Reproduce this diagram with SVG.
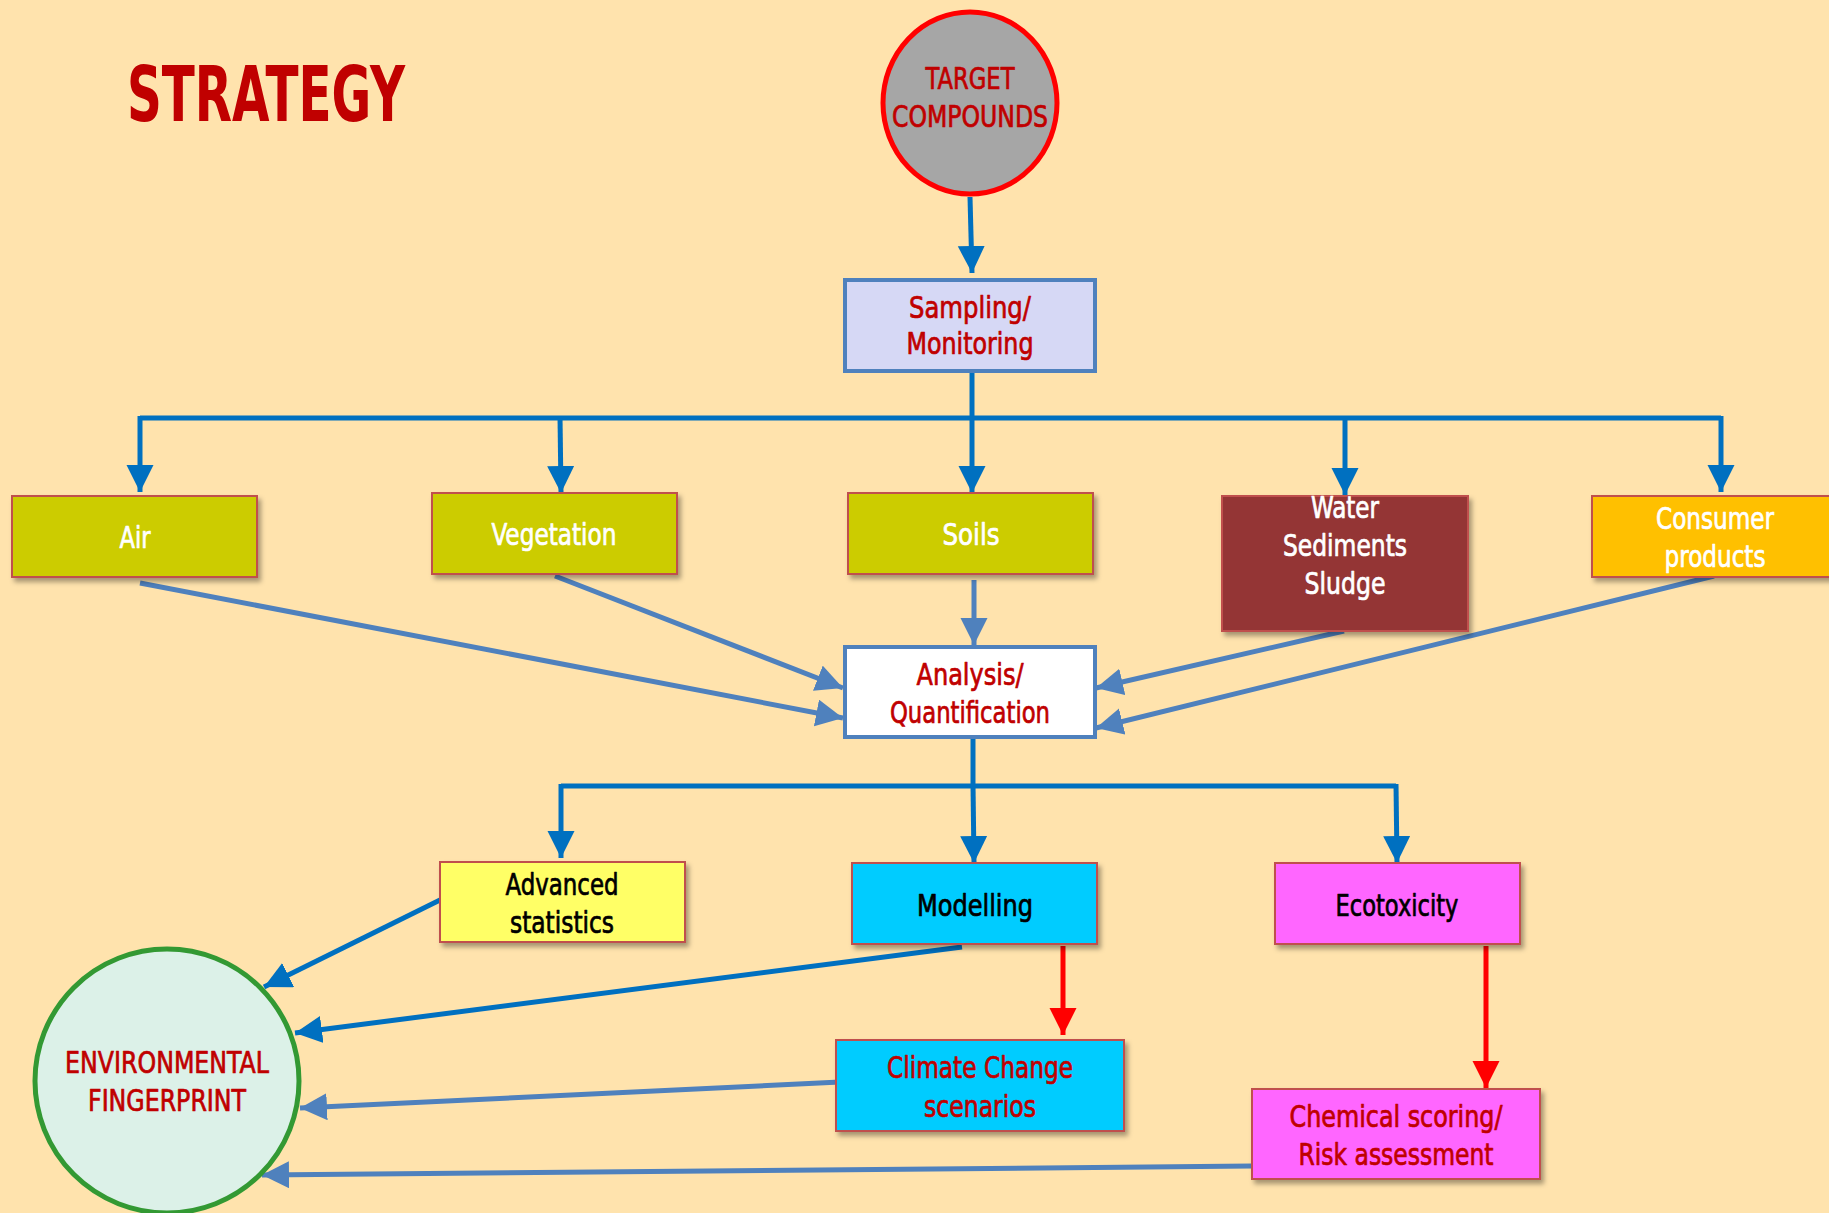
<svg xmlns="http://www.w3.org/2000/svg" width="1829" height="1213" viewBox="0 0 1829 1213">
<style>
text{font-family:"Liberation Sans Narrow","DejaVu Sans Condensed","Liberation Sans",sans-serif;text-anchor:middle;font-size:30px;stroke-width:0.7px;stroke-linejoin:round}
.red{fill:#c00000;stroke:#c00000}
.wht{fill:#ffffff;stroke:#ffffff}
.blk{fill:#000000;stroke:#000000}
.title{font-size:76px;font-weight:bold;stroke:none}
.box{stroke:#c0504d;stroke-width:2;filter:url(#sh)}
.c1{fill:none;stroke:#0070c0;stroke-width:5}
.c2{fill:none;stroke:#4f81bd;stroke-width:5}
.c3{fill:none;stroke:#ff0000;stroke-width:5}
</style>
<defs>
<filter id="sh" x="-10%" y="-10%" width="130%" height="140%">
<feDropShadow dx="3" dy="4" stdDeviation="2.5" flood-color="#000" flood-opacity="0.35"/>
</filter>
<marker id="a1" markerUnits="userSpaceOnUse" markerWidth="28" markerHeight="28" refX="27" refY="13.5" orient="auto"><path d="M0,0 L27,13.5 L0,27 z" fill="#0070c0"/></marker>
<marker id="a2" markerUnits="userSpaceOnUse" markerWidth="28" markerHeight="28" refX="27" refY="13.5" orient="auto"><path d="M0,0 L27,13.5 L0,27 z" fill="#4f81bd"/></marker>
<marker id="a3" markerUnits="userSpaceOnUse" markerWidth="28" markerHeight="28" refX="27" refY="13.5" orient="auto"><path d="M0,0 L27,13.5 L0,27 z" fill="#ff0000"/></marker>
</defs>
<rect x="0" y="0" width="1829" height="1213" fill="#ffe3ad"/>
<text x="266" y="121" class="red title" textLength="278" lengthAdjust="spacingAndGlyphs">STRATEGY</text>

<g id="connectors">
<path class="c1" d="M970,197 L972,273" marker-end="url(#a1)"/>
<path class="c1" d="M972,371 L972,418"/>
<path class="c1" d="M140,418 L1721,418"/>
<path class="c1" d="M140,416 L140,492" marker-end="url(#a1)"/>
<path class="c1" d="M560,416 L561,493" marker-end="url(#a1)"/>
<path class="c1" d="M972,416 L972,493" marker-end="url(#a1)"/>
<path class="c1" d="M1345,416 L1345,495" marker-end="url(#a1)"/>
<path class="c1" d="M1721,416 L1721,492" marker-end="url(#a1)"/>
<path class="c2" d="M140,583 L843,718" marker-end="url(#a2)"/>
<path class="c2" d="M555,576 L843,688" marker-end="url(#a2)"/>
<path class="c2" d="M974,580 L974,645" marker-end="url(#a2)"/>
<path class="c2" d="M1344,631 L1096,688" marker-end="url(#a2)"/>
<path class="c2" d="M1714,576 L1096,728" marker-end="url(#a2)"/>
<path class="c1" d="M973,738 L973,786"/>
<path class="c1" d="M561,786 L1396,786"/>
<path class="c1" d="M561,784 L561,858" marker-end="url(#a1)"/>
<path class="c1" d="M973,784 L974,863" marker-end="url(#a1)"/>
<path class="c1" d="M1396,784 L1397,863" marker-end="url(#a1)"/>
<path class="c1" d="M440,900 L264,987" marker-end="url(#a1)"/>
<path class="c1" d="M962,947 Q620,990 295,1033" marker-end="url(#a1)"/>
<path class="c2" d="M840,1082 L300,1108" marker-end="url(#a2)"/>
<path class="c2" d="M1252,1166 L262,1175" marker-end="url(#a2)"/>
<path class="c3" d="M1063,946 L1063,1035" marker-end="url(#a3)"/>
<path class="c3" d="M1486,946 L1486,1088" marker-end="url(#a3)"/>
</g>

<g id="target">
<ellipse cx="970" cy="103" rx="87" ry="91" fill="#a6a6a6" stroke="#ff0000" stroke-width="5"/>
<text x="970" y="89" class="red" textLength="89" lengthAdjust="spacingAndGlyphs">TARGET</text>
<text x="970" y="127" class="red" textLength="156" lengthAdjust="spacingAndGlyphs">COMPOUNDS</text>
</g>

<g id="sampling">
<rect x="845" y="280" width="250" height="91" fill="#d6d8f5" stroke="#4f81bd" stroke-width="4"/>
<text x="970" y="318" class="red" textLength="122" lengthAdjust="spacingAndGlyphs">Sampling/</text>
<text x="970" y="354" class="red" textLength="127" lengthAdjust="spacingAndGlyphs">Monitoring</text>
</g>

<g id="air">
<rect class="box" x="12" y="496" width="245" height="81" fill="#cccc00"/>
<text x="135" y="548" class="wht" textLength="31" lengthAdjust="spacingAndGlyphs">Air</text>
</g>
<g id="vegetation">
<rect class="box" x="432" y="493" width="245" height="81" fill="#cccc00"/>
<text x="554" y="545" class="wht" textLength="125" lengthAdjust="spacingAndGlyphs">Vegetation</text>
</g>
<g id="soils">
<rect class="box" x="848" y="493" width="245" height="81" fill="#cccc00"/>
<text x="971" y="545" class="wht" textLength="57" lengthAdjust="spacingAndGlyphs">Soils</text>
</g>
<g id="water">
<rect class="box" x="1222" y="496" width="246" height="135" fill="#943634"/>
<text x="1345" y="518" class="wht" textLength="68" lengthAdjust="spacingAndGlyphs">Water</text>
<text x="1345" y="556" class="wht" textLength="124" lengthAdjust="spacingAndGlyphs">Sediments</text>
<text x="1345" y="594" class="wht" textLength="81" lengthAdjust="spacingAndGlyphs">Sludge</text>
</g>
<g id="consumer">
<rect class="box" x="1592" y="496" width="250" height="81" fill="#ffc000"/>
<text x="1715" y="529" class="wht" textLength="118" lengthAdjust="spacingAndGlyphs">Consumer</text>
<text x="1715" y="567" class="wht" textLength="101" lengthAdjust="spacingAndGlyphs">products</text>
</g>

<g id="analysis">
<rect x="845" y="647" width="250" height="90" fill="#ffffff" stroke="#4f81bd" stroke-width="4"/>
<text x="970" y="685" class="red" textLength="107" lengthAdjust="spacingAndGlyphs">Analysis/</text>
<text x="970" y="723" class="red" textLength="160" lengthAdjust="spacingAndGlyphs">Quantification</text>
</g>

<g id="advanced">
<rect class="box" x="440" y="862" width="245" height="80" fill="#ffff66"/>
<text x="562" y="895" class="blk" textLength="113" lengthAdjust="spacingAndGlyphs">Advanced</text>
<text x="562" y="933" class="blk" textLength="104" lengthAdjust="spacingAndGlyphs">statistics</text>
</g>
<g id="modelling">
<rect class="box" x="852" y="863" width="245" height="81" fill="#00ccff"/>
<text x="975" y="916" class="blk" textLength="116" lengthAdjust="spacingAndGlyphs">Modelling</text>
</g>
<g id="ecotoxicity">
<rect class="box" x="1275" y="863" width="245" height="81" fill="#ff66ff"/>
<text x="1397" y="916" class="blk" textLength="123" lengthAdjust="spacingAndGlyphs">Ecotoxicity</text>
</g>
<g id="climate">
<rect class="box" x="836" y="1040" width="288" height="91" fill="#00ccff"/>
<text x="980" y="1078" class="red" textLength="186" lengthAdjust="spacingAndGlyphs">Climate Change</text>
<text x="980" y="1117" class="red" textLength="112" lengthAdjust="spacingAndGlyphs">scenarios</text>
</g>
<g id="chemical">
<rect class="box" x="1252" y="1089" width="288" height="90" fill="#ff66ff"/>
<text x="1396" y="1127" class="red" textLength="213" lengthAdjust="spacingAndGlyphs">Chemical scoring/</text>
<text x="1396" y="1165" class="red" textLength="195" lengthAdjust="spacingAndGlyphs">Risk assessment</text>
</g>

<g id="fingerprint">
<ellipse cx="167" cy="1081" rx="132" ry="132" fill="#dcf1e8" stroke="#339933" stroke-width="5"/>
<text x="167" y="1073" class="red" textLength="204" lengthAdjust="spacingAndGlyphs">ENVIRONMENTAL</text>
<text x="167" y="1111" class="red" textLength="158" lengthAdjust="spacingAndGlyphs">FINGERPRINT</text>
</g>
</svg>
